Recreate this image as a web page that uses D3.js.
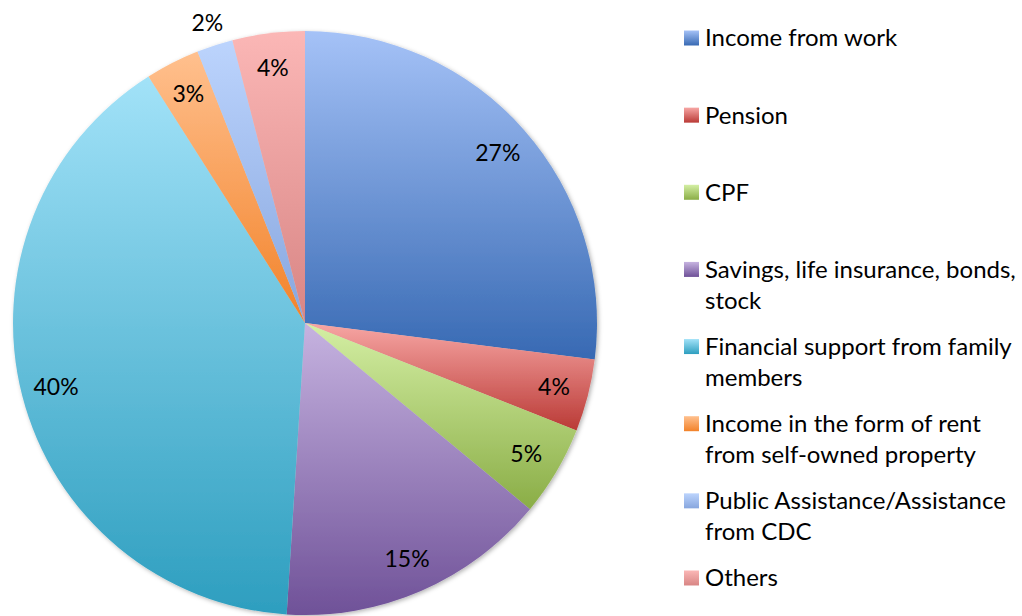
<!DOCTYPE html>
<html>
<head>
<meta charset="utf-8">
<script src="https://cdn.jsdelivr.net/npm/d3@7"></script>
<style>
  body { margin: 0; background: #fff; }
  svg { display: block; font-family: Lato, "Open Sans", sans-serif; }
</style>
</head>
<body>
<div id="chart"></div>
<script>
// data
const categories = [
  "Income from work",
  "Pension",
  "CPF",
  "Savings, life insurance, bonds,\nstock",
  "Financial support from family\nmembers",
  "Income in the form of rent\nfrom self-owned property",
  "Public Assistance/Assistance\nfrom CDC",
  "Others"
];
const values = [27, 4, 5, 15, 40, 3, 2, 4];
const lightColors = ["#a5c2f7", "#f7a6a4", "#d4efa4", "#c6b3e0", "#a2e2f8", "#ffc08e", "#bcd4fd", "#fbb7b6"];
const darkColors  = ["#3769b3", "#ba3a36", "#8aad46", "#6f5198", "#2d9ebf", "#f28229", "#87a6de", "#d88584"];
const outsideLabels = [false, false, false, false, false, false, true, false];

const W = 1022, H = 616;
const cx = 305, cy = 323, R = 292;

const svg = d3.select("#chart").append("svg")
  .attr("width", W)
  .attr("height", H);

const defs = svg.append("defs");

// soft shadow around the pie
const shadow = defs.append("filter")
  .attr("id", "shadow")
  .attr("x", "-10%").attr("y", "-10%")
  .attr("width", "120%").attr("height", "120%");
shadow.append("feDropShadow")
  .attr("dx", 1.5).attr("dy", 1.5)
  .attr("stdDeviation", 2)
  .attr("flood-color", "#000")
  .attr("flood-opacity", 0.3);

// one vertical gradient per slice (light at top, dark at bottom)
categories.forEach((c, i) => {
  const g = defs.append("linearGradient")
    .attr("id", "grad" + i)
    .attr("x1", 0).attr("y1", 0)
    .attr("x2", 0).attr("y2", 1);
  g.append("stop").attr("offset", "0%").attr("stop-color", lightColors[i]);
  g.append("stop").attr("offset", "100%").attr("stop-color", darkColors[i]);
});

const data = categories.map((c, i) => ({ name: c, value: values[i], i }));

const pie = d3.pie()
  .value(d => d.value)
  .sort(null);

const arcs = pie(data);

const arc = d3.arc().innerRadius(0).outerRadius(R);
const labelArc = d3.arc().innerRadius(257).outerRadius(257);
const outerLabelArc = d3.arc().innerRadius(316).outerRadius(316);

const chart = svg.append("g")
  .attr("transform", `translate(${cx},${cy})`);

chart.append("g")
  .attr("filter", "url(#shadow)")
  .selectAll("path")
  .data(arcs)
  .join("path")
  .attr("d", arc)
  .attr("fill", d => `url(#grad${d.data.i})`);

chart.append("g")
  .selectAll("text")
  .data(arcs)
  .join("text")
  .attr("transform", d => `translate(${(outsideLabels[d.data.i] ? outerLabelArc : labelArc).centroid(d)})`)
  .attr("text-anchor", "middle")
  .attr("dy", "0.35em")
  .attr("font-size", "23px")
  .attr("fill", "#000")
  .text(d => d.data.value + "%");

// legend, entries evenly spaced
const legendX = 684, legendTop = 38, legendStep = 77.14, lineH = 31, box = 15;

const legend = svg.append("g");
const items = legend.selectAll("g")
  .data(data)
  .join("g")
  .attr("transform", (d, i) => `translate(${legendX},${legendTop + i * legendStep})`);

items.append("rect")
  .attr("x", 0)
  .attr("y", -box / 2)
  .attr("width", box)
  .attr("height", box)
  .attr("fill", d => `url(#grad${d.i})`);

items.append("text")
  .attr("x", 21)
  .attr("font-size", "24px")
  .attr("fill", "#000")
  .selectAll("tspan")
  .data(d => d.name.split("\n"))
  .join("tspan")
  .attr("x", 21)
  .attr("y", (d, j) => j * lineH)
  .attr("dy", "0.35em")
  .text(d => d);
</script>
</body>
</html>
